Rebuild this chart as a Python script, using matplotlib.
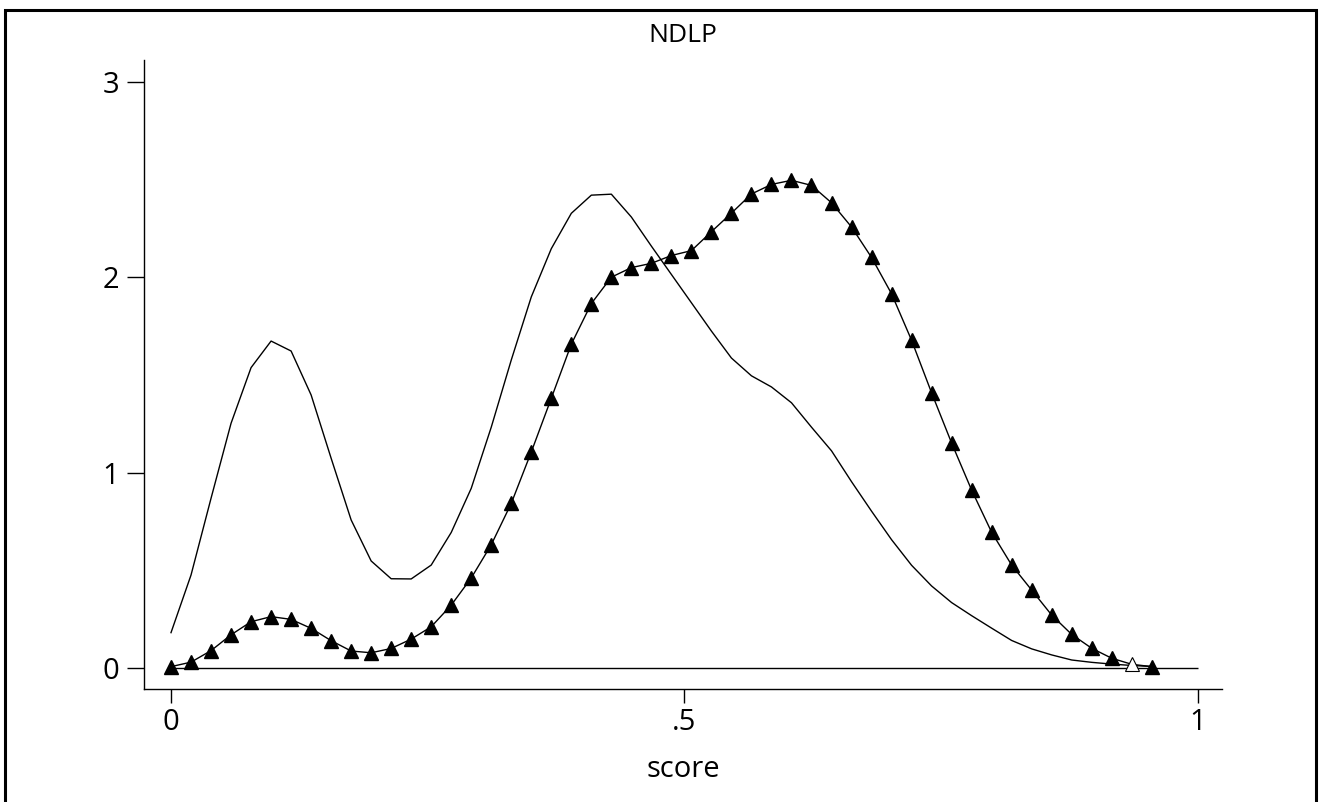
import numpy as np
import matplotlib
matplotlib.use("Agg")
from matplotlib import pyplot as plt
from matplotlib.patches import Rectangle

plt.rcParams['font.family'] = ['Open Sans', 'DejaVu Sans']

# kdensity evaluated on a 50-point grid over the score range
score = np.linspace(0, 0.955, 50)

dens_plain = [0.181, 0.476, 0.869, 1.253, 1.538, 1.674, 1.623, 1.398, 1.074, 0.758,
              0.548, 0.457, 0.456, 0.527, 0.694, 0.920, 1.233, 1.577, 1.900, 2.147,
              2.328, 2.421, 2.426, 2.309, 2.160, 2.015, 1.870, 1.725, 1.587, 1.496,
              1.439, 1.358, 1.233, 1.112, 0.954, 0.803, 0.657, 0.526, 0.420, 0.335,
              0.268, 0.204, 0.141, 0.098, 0.067, 0.041, 0.029, 0.020, 0.013, 0.008]

dens_tri = [0.007, 0.030, 0.089, 0.170, 0.237, 0.263, 0.249, 0.203, 0.140, 0.087,
            0.078, 0.100, 0.148, 0.211, 0.322, 0.461, 0.631, 0.843, 1.106, 1.381,
            1.658, 1.866, 2.001, 2.050, 2.072, 2.112, 2.137, 2.234, 2.329, 2.427,
            2.476, 2.497, 2.471, 2.382, 2.258, 2.102, 1.916, 1.678, 1.409, 1.152,
            0.911, 0.695, 0.527, 0.399, 0.271, 0.172, 0.101, 0.050, 0.019, 0.007]

x_ticks = [0, 0.5, 1]
x_ticklabels = ["0", ".5", "1"]
y_ticks = [0, 1, 2, 3]
y_ticklabels = ["0", "1", "2", "3"]
hollow = [48]

W, H = 1319, 802
fig = plt.figure(figsize=(W / 100, H / 100), dpi=100)
ax = fig.add_axes([144 / W, 1 - 689 / H, (1222 - 144) / W, (689 - 60) / H])

ax.hlines(0, 0, 1, color="black", lw=1.0)
ax.plot(score, dens_plain, color="black", lw=1.0)
ax.plot(score, dens_tri, color="black", lw=1.0)
filled = [i for i in range(len(score)) if i not in hollow]
ax.plot(score, dens_tri, linestyle="None", marker="^", markersize=10,
        color="black", markevery=filled)
ax.plot(score, dens_tri, linestyle="None", marker="^", markersize=10,
        markerfacecolor="white", markeredgecolor="black", markeredgewidth=0.8,
        markevery=hollow)

ax.set_xlim(-0.0263, 1.0234)
ax.set_ylim(-0.1075, 3.113)
ax.set_xticks(x_ticks)
ax.set_xticklabels(x_ticklabels)
ax.set_yticks(y_ticks)
ax.set_yticklabels(y_ticklabels)

for side in ("top", "right"):
    ax.spines[side].set_visible(False)
for side in ("left", "bottom"):
    ax.spines[side].set_linewidth(1.0)

ax.tick_params(axis="y", length=12, width=1.0, pad=6, labelsize=21)
ax.tick_params(axis="x", length=10, width=1.0, pad=4, labelsize=21)

ax.set_title("NDLP", fontsize=19, pad=13)
ax.set_xlabel("score", fontsize=21)
ax.xaxis.set_label_coords(0.5, -0.1399)
ax.xaxis.label.set_va("baseline")

fig.patches.append(Rectangle((5 / W, -0.05), (1316 - 5) / W, 1.05 - 10 / H,
                             transform=fig.transFigure, fill=False,
                             edgecolor="black", lw=2.2, clip_on=False))

fig.savefig("out.png", dpi=100)
